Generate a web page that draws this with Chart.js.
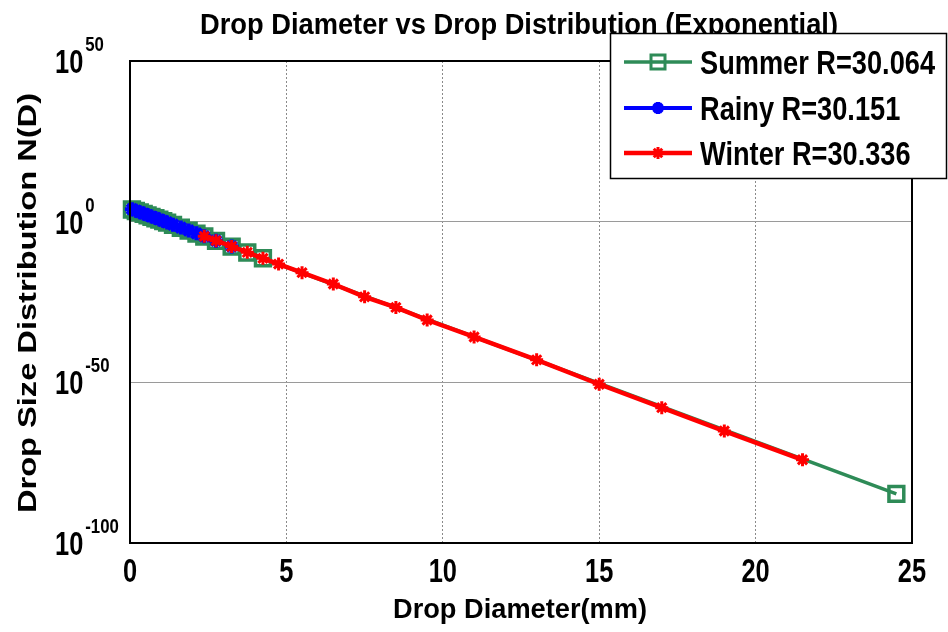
<!DOCTYPE html>
<html><head><meta charset="utf-8">
<script src="https://cdn.jsdelivr.net/npm/chart.js@4.4.0/dist/chart.umd.min.js"></script>
<style>html,body{margin:0;padding:0;background:#fff}#wrap{width:948px;height:632px}</style>
</head><body><div id="wrap"><canvas id="c" width="948" height="632"></canvas></div>
<script>
// ---- data ----
const summerD = [0.062,0.187,0.312,0.437,0.562,0.687,0.812,0.937,1.062,1.187,1.375,1.625,1.875,2.125,2.375,2.75,3.25,3.75,4.25,24.5];
const summerN = [6.0e3,2.1e3,7.4e2,2.6e2,93,32,11.5,4.1,1.44,0.50,0.105,1.3e-2,1.6e-3,2.0e-4,2.5e-5,1.1e-6,1.7e-8,2.6e-10,4.1e-12,2e-85];
const rainyD = [0.062,0.187,0.312,0.437,0.562,0.687,0.812,0.937,1.062,1.187,1.375,1.625,1.875,2.125,2.375,2.75,3.25];
const rainyN = [7.4e3,2.6e3,9.1e2,3.2e2,1.1e2,40,14,4.9,1.7,0.60,0.12,1.5e-2,1.9e-3,2.3e-4,2.8e-5,1.2e-6,1.9e-8];
const winterD = [2.375,2.75,3.25,3.75,4.25,4.75,5.5,6.5,7.5,8.5,9.5,11,13,15,17,19,21.5];
const winterN = [2.8e-5,1.2e-6,1.9e-8,2.8e-10,4e-12,6.3e-14,1.3e-16,4e-20,4e-24,2e-27,2.5e-31,1.3e-36,1e-43,2.5e-51,1.3e-58,7e-66,8e-75];
const seriesNames = ['Summer R=30.064','Rainy R=30.151','Winter R=30.336'];
const yTickValues = [1e-100,1e-50,1e0,1e50];
const yTickExponents = ['-100','-50','0','50'];
const xTickValues = [0,5,10,15,20,25];
const titleText = 'Drop Diameter vs Drop Distribution (Exponential)';
const xTitle = 'Drop Diameter(mm)';
const yTitle = 'Drop Size Distribution N(D)';

const GREEN = '#2E8B57', BLUE = '#0000FF', RED = '#FF0000';
const FONT = '"Liberation Sans",Arial,sans-serif';

function pts(xs, ys){ return xs.map((x,i)=>({x:x, y:ys[i]})); }

function fitText(ctx, text, x, y, size, targetW, align, rot){
  ctx.save();
  ctx.font = 'bold ' + size + 'px ' + FONT;
  const w = ctx.measureText(text).width;
  ctx.translate(x, y);
  if (rot) ctx.rotate(rot);
  ctx.scale(targetW / w, 1);
  ctx.textAlign = align; ctx.textBaseline = 'alphabetic';
  ctx.fillStyle = '#000';
  ctx.fillText(text, 0, 0);
  ctx.restore();
}
function narrowText(ctx, text, x, y, size, sx, align){
  ctx.save();
  ctx.font = 'bold ' + size + 'px ' + FONT;
  const w = ctx.measureText(text).width * sx;
  ctx.translate(x, y); ctx.scale(sx, 1);
  ctx.textAlign = align; ctx.textBaseline = 'alphabetic'; ctx.fillStyle = '#000';
  ctx.fillText(text, 0, 0);
  ctx.restore();
  return w;
}

function drawStar(ctx, x, y, r){
  ctx.beginPath();
  for (let k=0;k<4;k++){
    const a = k*Math.PI/4;
    ctx.moveTo(x - r*Math.cos(a), y - r*Math.sin(a));
    ctx.lineTo(x + r*Math.cos(a), y + r*Math.sin(a));
  }
  ctx.stroke();
}

const decor = {
  id: 'decor',
  afterDraw(chart){
    const ctx = chart.ctx, a = chart.chartArea;
    const ys = chart.scales.y, xs = chart.scales.x;
    // frame
    ctx.save();
    ctx.strokeStyle = '#000'; ctx.lineWidth = 2;
    ctx.strokeRect(a.left, a.top, a.right - a.left, a.bottom - a.top);
    ctx.restore();
    // x tick labels
    xTickValues.forEach(v => {
      narrowText(ctx, String(v), xs.getPixelForValue(v), 582, 33, 0.77, 'center');
    });
    // y tick labels with superscripts
    yTickValues.forEach((v,i)=>{
      const py = ys.getPixelForValue(v);
      const w = narrowText(ctx, '10', 55, py + 12, 33, 0.77, 'left');
      narrowText(ctx, yTickExponents[i], 55 + w + 2, py - 10, 21, 0.8, 'left');
    });
    // titles
    fitText(ctx, titleText, 519, 34, 30, 638, 'center');
    fitText(ctx, xTitle, 520, 618, 27, 254, 'center');
    fitText(ctx, yTitle, 36, 303, 25, 420, 'center', -Math.PI/2);
    // legend
    ctx.save();
    ctx.fillStyle = '#fff'; ctx.fillRect(610, 33, 337, 146);
    ctx.strokeStyle = '#000'; ctx.lineWidth = 1.5; ctx.strokeRect(610.5, 33.5, 336, 145);
    const rows = [62, 108, 153];
    const cols = [GREEN, BLUE, RED];
    const lw = [3.5, 4, 4.5];
    ctx.font = 'bold 34px ' + FONT;
    const sx = 235 / ctx.measureText(seriesNames[0]).width;
    rows.forEach((ry,i)=>{
      ctx.strokeStyle = cols[i]; ctx.lineWidth = lw[i];
      ctx.beginPath(); ctx.moveTo(624, ry); ctx.lineTo(692, ry); ctx.stroke();
      if (i===0){ ctx.lineWidth = 3; ctx.strokeRect(651, ry-7, 14, 14); }
      else if (i===1){ ctx.lineWidth = 4; drawStar(ctx, 658, ry, 6); }
      else { ctx.lineWidth = 3; drawStar(ctx, 658, ry, 6); }
      narrowText(ctx, seriesNames[i], 700, ry + 12, 34, sx, 'left');
    });
    ctx.restore();
  }
};

new Chart(document.getElementById('c'), {
  type: 'line',
  data: {
    datasets: [
      { label: seriesNames[0], data: pts(summerD, summerN), borderColor: GREEN, backgroundColor: 'rgba(0,0,0,0)',
        borderWidth: 3.5, pointStyle: 'rect', pointRadius: 10.5, pointBorderWidth: 3.5, pointBorderColor: GREEN,
        pointBackgroundColor: 'rgba(0,0,0,0)', tension: 0, clip: false, order: 3 },
      { label: seriesNames[1], data: pts(rainyD, rainyN), borderColor: BLUE, backgroundColor: BLUE,
        borderWidth: 4, pointStyle: 'star', pointRadius: 7, pointBorderWidth: 4, pointBorderColor: BLUE,
        tension: 0, clip: false, order: 2 },
      { label: seriesNames[2], data: pts(winterD, winterN), borderColor: RED, backgroundColor: RED,
        borderWidth: 4.5, pointStyle: 'star', pointRadius: 6.5, pointBorderWidth: 3, pointBorderColor: RED,
        tension: 0, clip: false, order: 1 }
    ]
  },
  options: {
    responsive: false, animation: false, devicePixelRatio: 1,
    layout: { padding: { top: 61, right: 36, left: 0, bottom: 0 } },
    plugins: { legend: { display: false }, tooltip: { enabled: false }, title: { display: false } },
    scales: {
      x: {
        type: 'linear', min: 0, max: 25,
        afterBuildTicks: s => { s.ticks = xTickValues.map(v => ({ value: v })); },
        afterFit: s => { s.height = 89; },
        ticks: { callback: () => '', maxRotation: 0 },
        grid: { color: '#8a8a8a', lineWidth: 1, drawTicks: false },
        border: { display: false, dash: [2, 2] }
      },
      y: {
        type: 'logarithmic', min: 1e-100, max: 1e50,
        afterBuildTicks: s => { s.ticks = yTickValues.map(v => ({ value: v })); },
        afterFit: s => { s.width = 130; },
        ticks: { callback: () => '' },
        grid: { color: '#9a9a9a', lineWidth: 1, drawTicks: false },
        border: { display: false }
      }
    }
  },
  plugins: [decor]
});
</script>
</body></html>
